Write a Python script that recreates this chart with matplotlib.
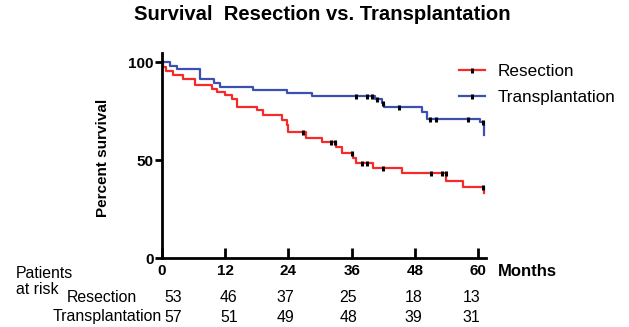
import numpy as np
import matplotlib
matplotlib.use('Agg')
import matplotlib.pyplot as plt
from matplotlib.lines import Line2D
from matplotlib import transforms

plt.rcParams['font.family'] = ['Liberation Sans', 'DejaVu Sans']

# Kaplan-Meier steps (months, percent surviving)
res_t = [0, 0.1, 0.8, 2.1, 4.0, 6.3, 9.4, 10.5, 12.0, 13.2, 14.2, 18.0, 19.2, 22.7, 23.7,
         24.0, 27.3, 30.3, 33.1, 34.1, 36.3, 36.9, 40.1, 45.5, 54.0, 57.2, 61.1]
res_s = [100, 97.8, 95.8, 93.5, 91.3, 88.4, 86.6, 84.8, 83.5, 81.5, 77.4, 75.7, 73.1, 70.6, 68.0,
         64.6, 61.2, 59.4, 56.9, 53.5, 50.9, 48.7, 45.8, 43.3, 39.6, 36.5, 33.2]
res_cens = [26.8, 32.0, 32.8, 36.0, 37.9, 39.0, 42.0, 51.0, 53.1, 53.9, 61.0]

tx_t = [0, 1.5, 2.9, 7.2, 9.9, 11.0, 17.2, 23.7, 28.4, 40.4, 41.7, 42.2, 49.3, 50.3, 60.3, 61.1]
tx_s = [100, 98.3, 96.6, 91.3, 89.6, 87.5, 85.9, 84.2, 82.8, 81.0, 79.4, 77.2, 74.6, 71.2, 69.6, 63.0]
tx_cens = [36.9, 38.9, 39.9, 40.8, 41.9, 45.0, 50.9, 52.0, 58.1, 61.0]

months = [0, 12, 24, 36, 48, 60]
res_risk = [53, 46, 37, 25, 18, 13]
tx_risk = [57, 51, 49, 48, 39, 31]

red = '#f72a2a'
blue = '#3c50b2'

W, H = 629, 327
fig = plt.figure(figsize=(W / 100, H / 100), dpi=100)

def fx(x):
    return x / W

def fy(y):
    return 1 - y / H

ax = fig.add_axes([fx(162), fy(258), fx(486 - 162), (258 - 53) / H])
ax.set_xlim(0, 61.5)
ax.set_ylim(0, 100 * (258 - 53) / (258 - 62.3))


def surv_at(t, times, surv):
    idx = np.searchsorted(times, t, side='right') - 1
    return np.array(surv)[idx]


ax.plot(res_t, res_s, drawstyle='steps-post', color=red, lw=1.6)
ax.plot(tx_t, tx_s, drawstyle='steps-post', color=blue, lw=1.6)
ax.plot(res_cens, surv_at(res_cens, res_t, res_s), ls='none', marker='|', ms=3.6, mew=2.2, color='black')
ax.plot(tx_cens, surv_at(tx_cens, tx_t, tx_s), ls='none', marker='|', ms=3.6, mew=2.2, color='black')

for side in ['top', 'right']:
    ax.spines[side].set_visible(False)
for side in ['left', 'bottom']:
    ax.spines[side].set_linewidth(2)

ax.set_yticks([0, 50, 100])
ax.set_xticks(months)
ax.tick_params(axis='y', direction='out', length=5, width=2, labelsize=11, pad=1)
ax.tick_params(axis='x', direction='in', length=7, width=2, labelsize=11, pad=4)
for lab in ax.get_xticklabels() + ax.get_yticklabels():
    lab.set_fontweight('bold')

fig.text(fx(322), fy(14), 'Survival  Resection vs. Transplantation', ha='center', va='center',
         fontsize=14.6, fontweight='bold')
fig.text(fx(103), fy(158), 'Percent survival', rotation=90, ha='center', va='center',
         fontsize=11, fontweight='bold')
fig.text(fx(498), fy(272), 'Months', ha='left', va='center', fontsize=12, fontweight='bold')

handles = [Line2D([], [], color=red, lw=1.6, marker='|', ms=3.6, mew=2.2, mfc='black', mec='black'),
           Line2D([], [], color=blue, lw=1.6, marker='|', ms=3.6, mew=2.2, mfc='black', mec='black')]
fig.legend(handles, ['Resection', 'Transplantation'], loc='upper left',
           bbox_to_anchor=(fx(459), fy(64)), frameon=False, fontsize=12.3,
           handlelength=1.5, handletextpad=0.75, labelspacing=0.63, borderpad=0, borderaxespad=0)

# numbers at risk
trans = transforms.blended_transform_factory(ax.transData, fig.transFigure)
col_x = [2.2, 12.7, 23.5, 35.4, 47.7, 58.8]
fig.text(fx(16), fy(273), 'Patients', ha='left', va='center', fontsize=11.4)
fig.text(fx(16), fy(289), 'at risk', ha='left', va='center', fontsize=11.4)
fig.text(fx(137), fy(298), 'Resection', ha='right', va='center', fontsize=11.4)
fig.text(fx(162), fy(317), 'Transplantation', ha='right', va='center', fontsize=11.4)
for x, r, t in zip(col_x, res_risk, tx_risk):
    ax.text(x, fy(298), str(r), transform=trans, ha='center', va='center', fontsize=11.4)
    ax.text(x, fy(317), str(t), transform=trans, ha='center', va='center', fontsize=11.4)

fig.savefig('out.png', dpi=100)
